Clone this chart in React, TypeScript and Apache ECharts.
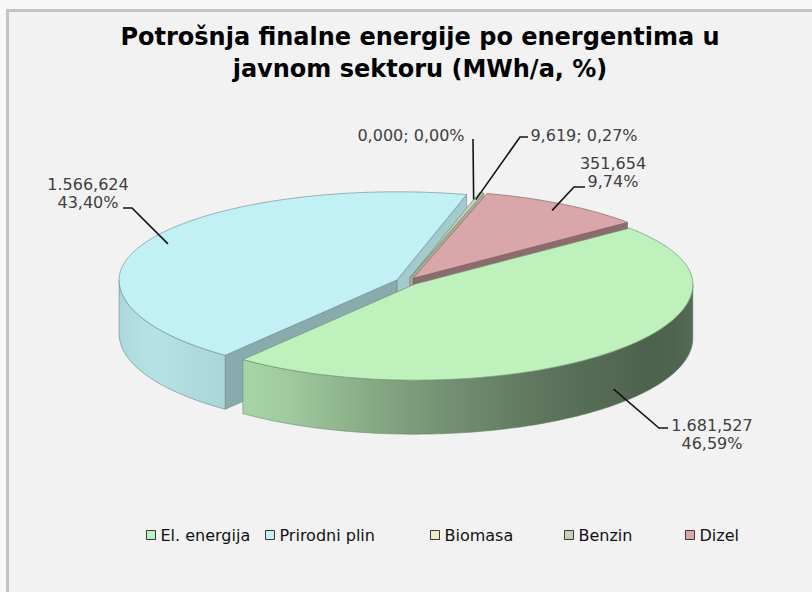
import React, { useEffect, useRef } from "react";
import * as echarts from "echarts";

// ---------- data ----------
const categories = ["El. energija", "Prirodni plin", "Biomasa", "Benzin", "Dizel"];
const values = [1681.527, 1566.624, 0.0, 9.619, 351.654];

// ---------- style / layout ----------
const topColors = ["#bff1bd", "#c1f1f5", "#eeeec0", "#c6d3b6", "#d9a6aa"];
const drawOrder = [3, 0, 1, 1, 2];
const legendLefts = [146, 265, 430, 564, 685];
const labelModes = ["two", "two", "one", "one", "two"];
const labelCenters = [[712, 434], [88, 193], [411, 135], [584, 135], [613, 172]];
const leaderTails = [
  [[659, 428], [668, 428]],
  [[132, 208], [123, 208]],
  [[473, 139]],
  [[520, 137], [528, 137]],
  [[574, 187], [585, 187]],
];

const START = -39.5; // screen degrees, clockwise
const CX = 407, CY = 281.5, RX = 278, RY = 96, RYB = 88, H = 54, EXPLODE = 11;
const FONT = "DejaVu Sans, Verdana, sans-serif";

const rad = (d: number) => (d * Math.PI) / 180;
const total = values.reduce((a, b) => a + b, 0);
const slices = (() => {
  let a = START;
  return values.map((v) => {
    const span = (v / total) * 360;
    const s = { a1: a, a2: a + span, mid: a + span / 2, pct: (v / total) * 100 };
    a += span;
    return s;
  });
})();

function centerOf(s: any) {
  const m = rad(s.mid);
  return [CX + EXPLODE * Math.cos(m), CY + EXPLODE * Math.sin(m) * (RY / RX)];
}
function rim(c: number[], deg: number, dy = 0, f = 1) {
  const a = rad(deg);
  const sn = Math.sin(a);
  const ry = sn < 0 ? RYB : RY;
  return [c[0] + f * RX * Math.cos(a), c[1] + f * ry * sn + dy];
}
function arc(c: number[], from: number, to: number, dy = 0) {
  const n = Math.max(2, Math.ceil(Math.abs(to - from) / 1));
  const pts: number[][] = [];
  for (let k = 0; k <= n; k++) pts.push(rim(c, from + ((to - from) * k) / n, dy));
  return pts;
}
function shade(hex: string, f: number) {
  const h = hex.replace("#", "");
  const r = parseInt(h.slice(0, 2), 16), g = parseInt(h.slice(2, 4), 16), b = parseInt(h.slice(4, 6), 16);
  const cl = (v: number) => Math.max(0, Math.min(255, Math.round(v * f)));
  return `rgb(${cl(r)},${cl(g)},${cl(b)})`;
}
const wallLight = [[0, 0.45], [30, 0.4], [60, 0.47], [90, 0.64], [120, 0.86], [150, 0.94], [180, 0.88]];
function wallBright(d: number) {
  const x = Math.max(0, Math.min(180, d));
  for (let k = 0; k < wallLight.length - 1; k++) {
    const [a0, v0] = wallLight[k], [a1, v1] = wallLight[k + 1];
    if (x >= a0 && x <= a1) return v0 + ((v1 - v0) * (x - a0)) / (a1 - a0);
  }
  return 0.88;
}
function faceBright(n: number) {
  return Math.max(0.35, Math.min(1, 0.92 - 0.0055 * n));
}
function fmt(v: number, d: number) {
  const [ip, dp] = v.toFixed(d).split(".");
  const withSep = ip.replace(/\B(?=(\d{3})+(?!\d))/g, ".");
  return dp ? withSep + "," + dp : withSep;
}

const makeRender = (i: number) => () => {
  const s = slices[i];
  const c = centerOf(s);
  const color = topColors[i];
  const base = 100 + drawOrder[i] * 10;
  const children: any[] = [];
  if (s.a2 - s.a1 > 0.001) {
    for (const [ang, nrm] of [[s.a1, s.a1 - 90], [s.a2, s.a2 + 90]]) {
      if (Math.sin(rad(nrm)) > 0.001) {
        const n = ((((nrm % 360) + 540) % 360) - 180);
        const p1 = rim(c, ang), p2 = rim(c, ang, H);
        children.push({
          type: "polygon",
          z2: base,
          shape: { points: [c, p1, p2, [c[0], c[1] + H]] },
          style: { fill: shade(color, faceBright(n)), stroke: shade(color, 0.5), lineWidth: 0.5 },
        });
      }
    }
    for (const off of [-360, 0, 360]) {
      const b1 = Math.max(s.a1, off), b2 = Math.min(s.a2, off + 180);
      if (b2 - b1 > 0.001) {
        const pts = arc(c, b1, b2).concat(arc(c, b2, b1, H));
        const xr = c[0] + RX * Math.cos(rad(b1));
        const xl = c[0] + RX * Math.cos(rad(b2));
        const stops: any[] = [];
        const N = 12;
        for (let k = 0; k <= N; k++) {
          const d = b1 + ((b2 - b1) * k) / N;
          const x = c[0] + RX * Math.cos(rad(d));
          stops.push({ offset: Math.max(0, Math.min(1, (x - xl) / (xr - xl || 1))), color: shade(color, wallBright(d - off)) });
        }
        stops.sort((a, b) => a.offset - b.offset);
        children.push({
          type: "polygon",
          z2: base + 1,
          shape: { points: pts },
          style: {
            fill: { type: "linear", x: xl, y: 0, x2: xr, y2: 0, global: true, colorStops: stops },
            stroke: shade(color, 0.55),
            lineWidth: 0.6,
          },
        });
      }
    }
    children.push({
      type: "polygon",
      z2: base + 2,
      shape: { points: [c, ...arc(c, s.a1, s.a2)] },
      style: { fill: color, stroke: shade(color, 0.62), lineWidth: 0.7 },
    });
  }
  // label + leader
  const front = Math.sin(rad(s.mid)) > 0.3;
  const start = front ? rim(c, s.mid, H * 0.7) : rim(c, s.mid, 0, 0.92);
  children.push({
    type: "polyline",
    z2: 900,
    shape: { points: [start, ...leaderTails[i]] },
    style: { stroke: "#141414", lineWidth: 1.6, fill: null },
  });
  const v = values[i];
  const text = labelModes[i] === "two"
    ? `${fmt(v, 3)}\n${fmt(s.pct, 2)}%`
    : `${fmt(v, 3)}; ${fmt(s.pct, 2)}%`;
  children.push({
    type: "text",
    z2: 900,
    style: {
      text,
      x: labelCenters[i][0],
      y: labelCenters[i][1],
      fill: "#404040",
      fontSize: 16,
      fontFamily: FONT,
      align: "center",
      verticalAlign: "middle",
      lineHeight: 18,
    },
  });
  return { type: "group", children };
};

export default function App() {
  const ref = useRef<HTMLDivElement>(null);
  useEffect(() => {
    const chart = echarts.init(ref.current!, null, { renderer: "svg" });
    chart.setOption({
      animation: false,
      backgroundColor: "#f7f7f7",
      textStyle: { fontFamily: FONT },
      graphic: [
        {
          type: "rect",
          z: -10,
          silent: true,
          shape: { x: 7.5, y: 10.5, width: 840, height: 620 },
          style: { fill: "#f2f2f2", stroke: "#c3c3c3", lineWidth: 3 },
        },
        {
          type: "text",
          x: 420,
          y: 53,
          style: {
            text: "Potrošnja finalne energije po energentima u\njavnom sektoru (MWh/a, %)",
            fill: "#000000",
            fontSize: 24,
            fontWeight: "bold",
            fontFamily: FONT,
            align: "center",
            verticalAlign: "middle",
            lineHeight: 32,
          },
        },
      ],
      legend: categories.map((c, i) => ({
        data: [c],
        left: legendLefts[i],
        top: 527,
        padding: 0,
        itemGap: 0,
        itemWidth: 9,
        itemHeight: 9,
        icon: "rect",
        selectedMode: false,
        itemStyle: { borderColor: "#3a3a3a", borderWidth: 1 },
        textStyle: { fontSize: 16, fontFamily: FONT, color: "#111111" },
      })),
      series: categories.map((c, i) => ({
        type: "custom",
        name: c,
        coordinateSystem: "none",
        itemStyle: { color: topColors[i] },
        data: [[values[i]]],
        renderItem: makeRender(i),
        silent: true,
      })),
    });
    return () => chart.dispose();
  }, []);
  return <div ref={ref} style={{ position: "fixed", left: 0, top: 0, width: 812, height: 592 }} />;
}
